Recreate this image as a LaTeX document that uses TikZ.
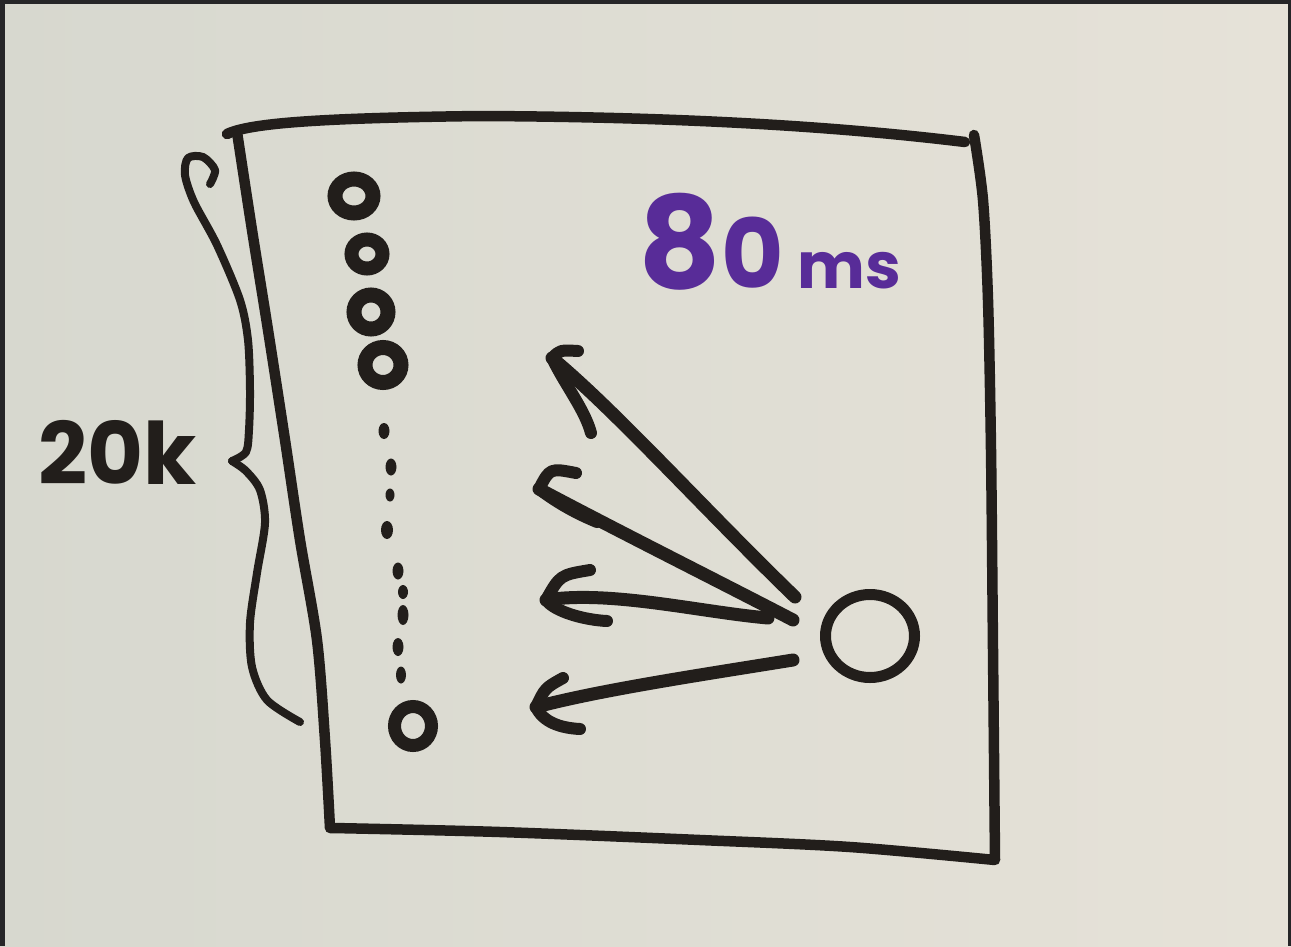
\documentclass[tikz,border=0pt]{standalone}
\usepackage{fontspec}
\setmainfont{Poppins}
\usetikzlibrary{shapes.geometric}
\definecolor{boardL}{RGB}{215,216,207}
\definecolor{boardR}{RGB}{230,226,216}
\definecolor{marker}{RGB}{34,30,27}
\definecolor{violet}{RGB}{88,44,152}
\definecolor{frame}{RGB}{38,38,40}
\begin{document}
\begin{tikzpicture}[x=1pt,y=-1pt,
  ink/.style={draw=marker,line cap=round,line join=round},
  boxline/.style={ink,line width=10.5pt},
  bracel/.style={ink,line width=8pt},
  ring/.style={ellipse,draw=marker,inner sep=0pt,line width=15pt},
  dotmark/.style={ellipse,fill=marker,inner sep=0pt},
  shaft/.style={ink,line width=13pt},
  barb/.style={ink,line width=12pt},
  hand/.style={inner sep=0pt,font=\bfseries}
]
\useasboundingbox (0,0) rectangle (1291,946);
% board
\shade[left color=boardL,right color=boardR] (0,0) rectangle (1291,946);
\fill[frame] (0,0) rectangle (1291,4);
\fill[frame] (0,0) rectangle (5,946);
\fill[frame] (1288,0) rectangle (1291,946);

% box
\draw[boxline] (227,134) .. controls (250,123) and (320,118) .. (480,116)
  .. controls (700,117) and (850,128) .. (965,142);
\draw[boxline] plot[smooth] coordinates {(974,135) (983,200) (988,300) (991,450) (993,650) (995,860)}
  -- plot[smooth] coordinates {(995,860) (850,847) (700,840) (500,832) (333,828)}
  -- plot[smooth] coordinates {(330,828) (325,740) (317,640) (300,540) (285,440) (268,330) (252,230) (237,132)};

% brace
\draw[bracel] plot[smooth] coordinates {(210,184) (215,170) (203,157) (188,158) (185,175) (194,202) (217,245) (240,300) (248,340) (250,390) (249,430) (246,452) (232,461)};
\draw[bracel] plot[smooth] coordinates {(232,461) (246,471) (260,490) (265,523) (257,573) (250,623) (252,667) (267,700) (300,722)};

% 20k
\node[hand,anchor=base west,font=\bfseries\fontsize{86}{86}\selectfont,text=marker] (count) at (38,484) {20k};

% 80ms
\node[hand,anchor=base west,text=violet] (lat) at (638,288)
  {{\fontsize{128}{128}\selectfont 8}{\fontsize{96}{96}\selectfont 0}\hspace{14pt}{\fontsize{64}{64}\selectfont ms}};

% column of items
\node[ring,minimum width=38pt,minimum height=34pt] (c1) at (354,196) {};
\node[ring,line width=14pt,minimum width=31pt,minimum height=29pt] (c2) at (367,254) {};
\node[ring,minimum width=34pt,minimum height=34pt] (c3) at (371,312) {};
\node[ring,minimum width=36pt,minimum height=35pt] (c4) at (383,365) {};
\node[dotmark,minimum width=11pt,minimum height=16pt] (d1) at (384,431) {};
\node[dotmark,minimum width=11pt,minimum height=17pt] (d2) at (391,467) {};
\node[dotmark,minimum width=9pt,minimum height=13pt] (d3) at (390,495) {};
\node[dotmark,minimum width=12pt,minimum height=18pt] (d4) at (387,530) {};
\node[dotmark,minimum width=11pt,minimum height=17pt] (d5) at (398,571) {};
\node[dotmark,minimum width=10pt,minimum height=14pt] (d6) at (403,592) {};
\node[dotmark,minimum width=11pt,minimum height=20pt] (d7) at (403,615) {};
\node[dotmark,minimum width=11pt,minimum height=18pt] (d8) at (398,647) {};
\node[dotmark,minimum width=10pt,minimum height=17pt] (d9) at (401,675) {};
\node[ring,line width=13pt,minimum width=37pt,minimum height=39pt] (c5) at (413,726) {};

% source
\node[ellipse,draw=marker,line width=11pt,inner sep=0pt,minimum width=89pt,minimum height=83pt] (src) at (870,636) {};

% arrows
\coordinate (t1) at (795,597); \coordinate (h1) at (552,358);
\coordinate (u1) at (578,351); \coordinate (l1) at (591,433);
\coordinate (t2) at (793,620); \coordinate (h2) at (539,489);
\coordinate (u2) at (576,473); \coordinate (l2) at (597,522);
\coordinate (t3) at (768,618); \coordinate (h3) at (546,600);
\coordinate (u3) at (590,570); \coordinate (l3) at (607,621);
\coordinate (t4) at (793,660); \coordinate (h4) at (536,707);
\coordinate (u4) at (563,678); \coordinate (l4) at (580,729);

\draw[shaft] (t1) .. controls (705,510) and (615,410) .. (h1);
\draw[barb] (u1) .. controls (560,350) .. (h1) .. controls (565,385) and (585,410) .. (l1);
\draw[shaft] (t2) .. controls (720,582) and (620,532) .. (h2);
\draw[barb] (u2) .. controls (550,468) .. (h2) .. controls (560,505) and (580,515) .. (l2);
\draw[shaft] (t3) .. controls (700,612) and (610,590) .. (h3);
\draw[barb] (u3) .. controls (560,575) .. (h3) .. controls (555,612) and (585,620) .. (l3);
\draw[shaft] (t4) .. controls (700,675) and (600,690) .. (h4);
\draw[barb] (u4) .. controls (545,688) .. (h4) .. controls (543,722) and (560,728) .. (l4);
\end{tikzpicture}
\end{document}
